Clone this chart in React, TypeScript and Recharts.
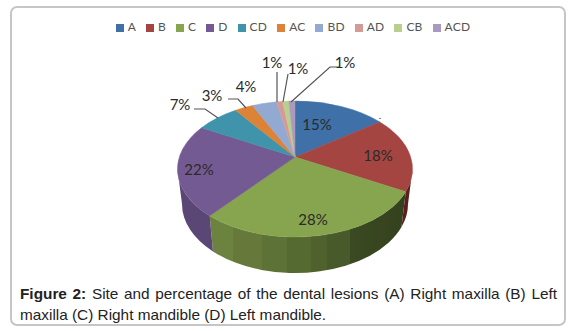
import { PieChart, Pie, Legend } from "recharts";

const categories = ["A", "B", "C", "D", "CD", "AC", "BD", "AD", "CB", "ACD"];
const percents = [15, 18, 28, 22, 7, 3, 4, 1, 1, 1];
const colors = ["#3f70a8", "#a54542", "#87a44f", "#745a92", "#3f93ab", "#dd8337", "#92a9d2", "#d69a96", "#b9cf8d", "#aa9abf"];
const wallColors = ["#2c4f78", "#5c1f1d", "url(#wallC)", "#5b4776", "#2c6a7c", "#a05f26", "#6a7a98", "#9a6f6c", "#869666", "#7b6f8a"];

const pieData = categories.map((name, i) => ({ name, value: percents[i], fill: colors[i], wall: wallColors[i] }));

// label centre and leader line per slice, in chart pixels
const labelSpots = [
  { x: 317, y: 124 }, { x: 378, y: 155 }, { x: 313, y: 219 }, { x: 199, y: 169 },
  { x: 180, y: 104, line: "194,109 205,109 218,118" },
  { x: 212, y: 95, line: "228,99 238,99 246,108" },
  { x: 246, y: 86 },
  { x: 272, y: 62, line: "277,72 277,102" },
  { x: 298, y: 68, line: "288,74 283,102" },
  { x: 345, y: 62, line: "340,67 330,67 291,102" },
];

const CX = 295;
const CY = 169;
const RX = 117.5;
const RY = 68;
const TILT = -0.176; // moves the apex off the ellipse centre, like the 3D view
const BOTTOM = { cy: 204, rx: 113, ry: 69 };

// chart angle -> unit point on the tilted disc
function project(angle: number) {
  const t = ((90 - angle) * Math.PI) / 180;
  const x = Math.sin(t);
  const y = -Math.cos(t);
  const d = 1 + TILT * y;
  return { x: (x * Math.sqrt(1 - TILT * TILT)) / d, y: (y + TILT) / d };
}

function TopSlice(props: any) {
  const a = project(props.startAngle);
  const b = project(props.endAngle);
  const large = props.startAngle - props.endAngle > 180 ? 1 : 0;
  const d = `M${CX},${CY + TILT * RY} L${CX + a.x * RX},${CY + a.y * RY} A${RX},${RY} 0 ${large} 1 ${CX + b.x * RX},${CY + b.y * RY} Z`;
  return <path d={d} fill={props.fill} stroke={props.fill} strokeWidth={0.5} />;
}

function WallSlice(props: any) {
  const a = project(props.startAngle);
  const b = project(props.endAngle);
  let p1 = Math.atan2(a.y, a.x);
  let p2 = Math.atan2(b.y, b.x);
  if (p1 < -Math.PI / 2) p1 += Math.PI * 2;
  if (p2 < -Math.PI / 2) p2 += Math.PI * 2;
  p1 = Math.max(0, p1);
  p2 = Math.min(Math.PI, p2);
  if (p2 <= p1) return null;
  const d =
    `M${CX + Math.cos(p1) * RX},${CY + Math.sin(p1) * RY} ` +
    `A${RX},${RY} 0 0 1 ${CX + Math.cos(p2) * RX},${CY + Math.sin(p2) * RY} ` +
    `L${CX + Math.cos(p2) * BOTTOM.rx},${BOTTOM.cy + Math.sin(p2) * BOTTOM.ry} ` +
    `A${BOTTOM.rx},${BOTTOM.ry} 0 0 0 ${CX + Math.cos(p1) * BOTTOM.rx},${BOTTOM.cy + Math.sin(p1) * BOTTOM.ry} Z`;
  return <path d={d} fill={props.payload?.wall ?? props.wall} />;
}

function SliceLabel(props: any) {
  const spot = labelSpots[props.index];
  return (
    <g>
      <text x={spot.x} y={spot.y} textAnchor="middle" dominantBaseline="central" fontFamily="Lato" fontSize={15} fill="#2a2a2a">
        {percents[props.index]}%
      </text>
      {props.index === 1 && (
        <text x={380} y={119} textAnchor="middle" fontFamily="Lato" fontSize={10} fill="#333">
          .
        </text>
      )}
    </g>
  );
}

function SliceLine(props: any) {
  const spot = labelSpots[props.index];
  if (!spot.line) return <g />;
  return <polyline points={spot.line} fill="none" stroke="#555" strokeWidth={1.2} />;
}

export default function App() {
  return (
    <div style={{ position: "absolute", left: 0, top: 0, width: 570, height: 331, background: "#fff" }}>
      <div style={{ position: "absolute", left: 10, top: 6, width: 552, height: 316, border: "2px solid #c6c6c6", borderRadius: 7 }} />
      <div style={{ position: "absolute", left: 0, top: 0 }}>
        <PieChart width={570} height={280}>
          <defs>
            <linearGradient id="wallC" gradientUnits="userSpaceOnUse" x1="209" y1="0" x2="405" y2="0">
              <stop offset="0" stopColor="#6c8340" />
              <stop offset="0.12" stopColor="#6c8340" />
              <stop offset="0.12" stopColor="#66793a" />
              <stop offset="0.27" stopColor="#66793a" />
              <stop offset="0.27" stopColor="#5d7236" />
              <stop offset="0.4" stopColor="#5d7236" />
              <stop offset="0.4" stopColor="#556a31" />
              <stop offset="0.52" stopColor="#556a31" />
              <stop offset="0.52" stopColor="#4f612c" />
              <stop offset="0.6" stopColor="#4f612c" />
              <stop offset="0.6" stopColor="#485a29" />
              <stop offset="0.72" stopColor="#485a29" />
              <stop offset="0.72" stopColor="#3b4a22" />
              <stop offset="1" stopColor="#35411e" />
            </linearGradient>
          </defs>
          <Legend
            verticalAlign="top"
            iconType="square"
            iconSize={8}
            itemSorter={null}
            wrapperStyle={{ top: 19, left: 0, width: 596, fontFamily: "Lato", fontSize: 12, letterSpacing: 0.2 }}
            formatter={(value: string) => <span style={{ color: "#555" }}>{value}</span>}
          />
          <Pie
            data={pieData}
            dataKey="value"
            nameKey="name"
            cx={CX}
            cy={CY}
            outerRadius={RX}
            startAngle={90}
            endAngle={-270}
            legendType="none"
            shape={WallSlice}
            isAnimationActive={false}
          />
          <Pie
            data={pieData}
            dataKey="value"
            nameKey="name"
            cx={CX}
            cy={CY}
            outerRadius={RX}
            startAngle={90}
            endAngle={-270}
            shape={TopSlice}
            label={SliceLabel}
            labelLine={SliceLine}
            isAnimationActive={false}
          />
        </PieChart>
      </div>
      <div
        style={{
          position: "absolute",
          left: 20,
          top: 283,
          width: 537,
          fontFamily: "Liberation Sans",
          fontSize: 15.35,
          lineHeight: "21px",
          color: "#222",
          textAlign: "justify",
        }}
      >
        <b>Figure 2:</b> Site and percentage of the dental lesions (A) Right maxilla (B) Left maxilla (C) Right mandible (D) Left mandible.
      </div>
    </div>
  );
}
